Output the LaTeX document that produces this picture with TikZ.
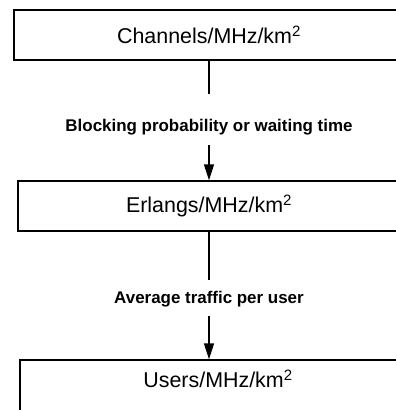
\documentclass[tikz,border=0pt]{standalone}
\usepackage{fontspec}
\setmainfont{Liberation Sans}
\usetikzlibrary{arrows.meta}
\begin{document}
\begin{tikzpicture}[x=1bp,y=-1bp,
  box/.style={draw, line width=1.3bp, minimum height=50bp, inner sep=0pt,
              font=\fontsize{21.5}{25}\selectfont},
  lbl/.style={font=\bfseries\fontsize{17}{20}\selectfont, inner sep=0pt},
  link/.style={line width=1.3bp},
  arr/.style={link, -{Triangle[length=16bp,width=10bp]}}]
\useasboundingbox (0,0) rectangle (396,410);
\clip (0,0) rectangle (396,410);
% three stacked boxes, running off the right edge
\node[box, minimum width=390bp] (b1) at (209,35) {Channels/MHz/km\textsuperscript{2}};
\node[box, minimum width=382bp] (b2) at (209,206) {Erlangs/MHz/km\textsuperscript{2}};
\node[box, minimum width=396bp, minimum height=50.8bp, text height=16bp, text depth=11.4bp]
  (b3) at (218,385.4) {Users/MHz/km\textsuperscript{2}};
% conversion labels
\node[lbl] (l1) at (209,127) {Blocking probability or waiting time};
\node[lbl] (l2) at (209,299) {Average traffic per user};
% connectors
\draw[link, shorten >=25bp] (b1) -- (l1);
\draw[arr, shorten <=10bp] (l1) -- (b2);
\draw[link, shorten >=11bp] (b2) -- (l2);
\draw[arr, shorten <=9bp] (l2) -- (l2 |- b3.north);
\end{tikzpicture}
\end{document}
